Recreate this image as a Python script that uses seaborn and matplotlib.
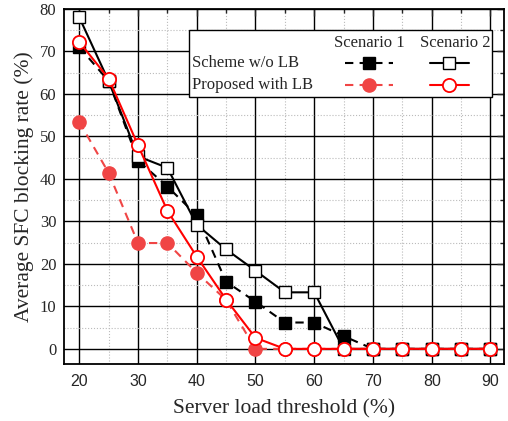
import matplotlib
matplotlib.use('Agg')
import matplotlib.pyplot as plt
import seaborn as sns
import pandas as pd
from matplotlib.patches import Rectangle
from matplotlib.ticker import MultipleLocator

# Seuils de charge serveur (%)
seuils = [20, 25, 30, 35, 40, 45, 50, 55, 60, 65, 70, 75, 80, 85, 90]

# Taux de blocage (%)
sans_lb_s1 = [71, 63, 44.3, 38.2, 31.4, 15.8, 11.1, 6.2, 6.2, 3, 0, 0, 0, 0, 0]
sans_lb_s2 = [78, 63, 45.3, 42.6, 29.2, 23.4, 18.4, 13.3, 13.3, 0, 0, 0, 0, 0, 0]
avec_lb_s1 = [53.4, 41.4, 24.9, 24.9, 17.9, 11.5, 0, 0, 0, 0, 0, 0, 0, 0, 0]
avec_lb_s2 = [72.2, 63.6, 47.9, 32.5, 21.7, 11.6, 2.6, 0, 0, 0, 0, 0, 0, 0, 0]

df = pd.DataFrame({'seuil': seuils, 'sans_s1': sans_lb_s1, 'sans_s2': sans_lb_s2,
                   'avec_s1': avec_lb_s1, 'avec_s2': avec_lb_s2})

sns.set_style('white')
plt.rcParams['font.family'] = ['Liberation Serif', 'DejaVu Serif']

rouge = '#ff0000'
rouge_clair = '#f04545'

# style de chaque courbe
styles = {
    'sans_s1': dict(color='black', linestyle=(0, (4, 3)), marker='s', markersize=8.5,
                    markerfacecolor='black', markeredgecolor='black', markeredgewidth=1),
    'sans_s2': dict(color='black', linestyle='-', marker='s', markersize=8.5,
                    markerfacecolor='white', markeredgecolor='black', markeredgewidth=1),
    'avec_s1': dict(color=rouge_clair, linestyle=(0, (4, 3)), marker='o', markersize=9.5,
                    markerfacecolor=rouge_clair, markeredgecolor=rouge_clair, markeredgewidth=1),
    'avec_s2': dict(color=rouge, linestyle='-', marker='o', markersize=9.5,
                    markerfacecolor='white', markeredgecolor=rouge, markeredgewidth=1.3),
}

fig = plt.figure(figsize=(5.08, 4.21), dpi=100)
ax = fig.add_axes([0.126, 0.135, 0.866, 0.844])

for z, (col, st) in enumerate(styles.items()):
    sns.lineplot(data=df, x='seuil', y=col, ax=ax, linewidth=1.5, zorder=3 + z, **st)

ax.set_xlim(17.4, 92.3)
ax.set_ylim(-3.6, 80)
ax.xaxis.set_major_locator(MultipleLocator(10))
ax.xaxis.set_minor_locator(MultipleLocator(5))
ax.yaxis.set_major_locator(MultipleLocator(10))
ax.yaxis.set_minor_locator(MultipleLocator(5))
ax.grid(which='major', color='black', linewidth=1, linestyle='-', zorder=0)
ax.grid(which='minor', color='#bbbbbb', linewidth=0.8, linestyle=':', zorder=0)
ax.set_axisbelow(True)
ax.tick_params(which='both', direction='in', top=True, right=True)
ax.tick_params(which='major', length=5, width=1)
ax.tick_params(which='minor', length=3, width=1)
ax.tick_params(axis='x', which='major', pad=7)
ax.tick_params(axis='y', which='major', pad=5.5)
for sp in ax.spines.values():
    sp.set_linewidth(1.3)
    sp.set_color('black')

for lab in ax.get_xticklabels():
    lab.set_family(['Liberation Sans', 'DejaVu Sans'])
    lab.set_fontsize(11.5)
for lab in ax.get_yticklabels():
    lab.set_fontsize(12)

ax.set_xlabel('Server load threshold (%)', fontsize=15.5, labelpad=7.5)
ax.set_ylabel('Average SFC blocking rate (%)', fontsize=15.5, labelpad=4)

# Légende en tableau (scénario 1 / scénario 2)
ax.add_patch(Rectangle((0.284, 0.752), 0.69, 0.189, transform=ax.transAxes,
                       facecolor='white', edgecolor='black', linewidth=1, zorder=10))
ax.text(0.693, 0.905, 'Scenario 1', transform=ax.transAxes, ha='center', va='center',
        fontsize=12, zorder=11)
ax.text(0.889, 0.905, 'Scenario 2', transform=ax.transAxes, ha='center', va='center',
        fontsize=12, zorder=11)
lignes = [('Scheme w/o LB', 0.847, 'sans_s1', 'sans_s2'),
          ('Proposed with LB', 0.786, 'avec_s1', 'avec_s2')]
for texte, yy, c1, c2 in lignes:
    ax.text(0.29, yy, texte, transform=ax.transAxes, ha='left', va='center',
            fontsize=12, zorder=11)
    for col, xa, xb in [(c1, 0.639, 0.747), (c2, 0.832, 0.92)]:
        st = dict(styles[col])
        mk = st.pop('marker')
        ax.plot([xa, xb], [yy, yy], transform=ax.transAxes, linewidth=1.5,
                marker='None', zorder=11, clip_on=False, **{k: v for k, v in st.items() if not k.startswith('marker')})
        ax.plot([(xa + xb) / 2], [yy], transform=ax.transAxes, marker=mk, linestyle='None',
                zorder=12, clip_on=False, **{k: v for k, v in st.items() if k.startswith('marker')})

fig.savefig('out.png', dpi=100)
